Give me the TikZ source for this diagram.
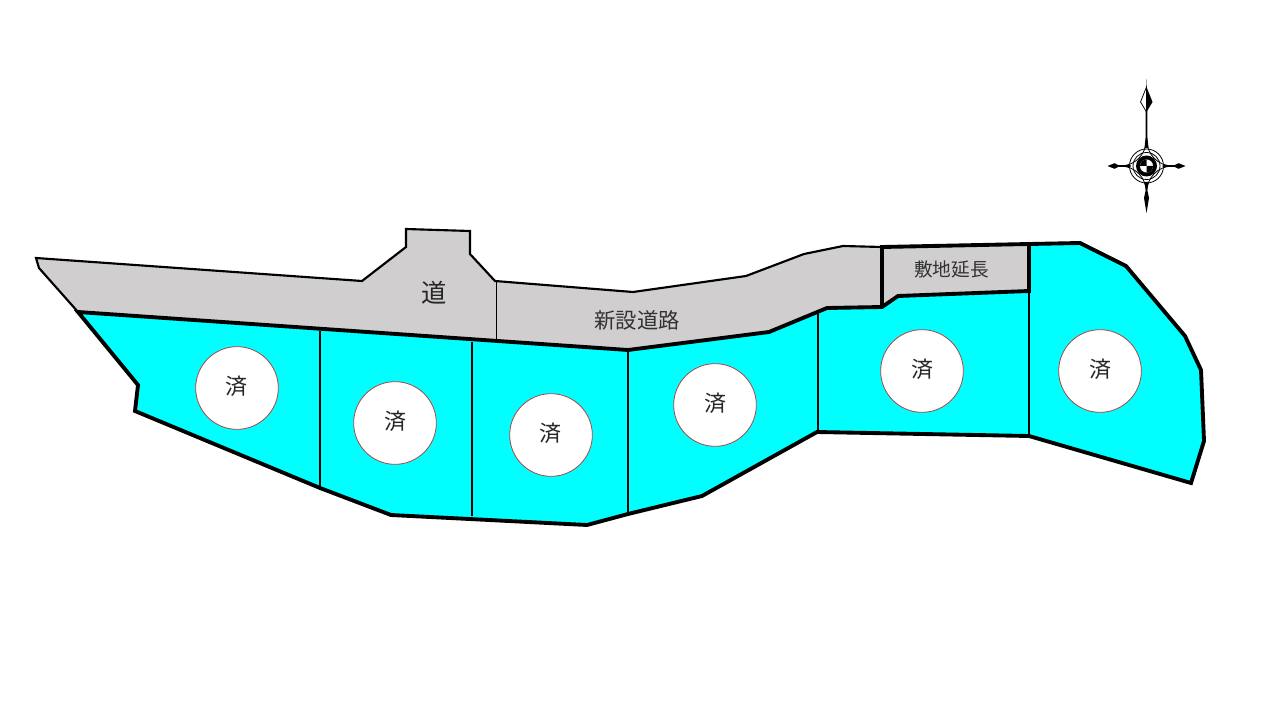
\documentclass[tikz,border=0pt]{standalone}
\usepackage{fontspec}
\newfontfamily\cjk{Noto Sans CJK JP}
\definecolor{lot}{RGB}{0,255,255}
\definecolor{road}{RGB}{208,206,206}
\definecolor{ringc}{RGB}{165,70,70}
\definecolor{inkc}{RGB}{50,50,50}
\tikzset{
  lotline/.style={draw=black,line width=2.9pt,line join=miter},
  roadline/.style={draw=black,line width=1.6pt,line join=miter},
  divider/.style={draw=black,line width=1pt},
  sold/.style={circle,draw=ringc,fill=white,line width=0.6pt,minimum size=62pt,inner sep=0pt,text=black},
  soldtext/.style={inner sep=0pt,font=\cjk\fontsize{16.5}{16.5}\selectfont,text=black!85},
  label/.style={inner sep=0pt,font=\cjk,text=inkc},
  thinring/.style={draw=black,line width=0.6pt}
}
\begin{document}
\begin{tikzpicture}[x=0.75pt,y=-0.75pt]
\useasboundingbox (0,0) rectangle (1280,720);
% road
\fill[road] (36,258) -- (39,268) -- (78,312) -- (628,350) -- (769,332) -- (827,308) -- (882,307) -- (882,247) -- (843,246) -- (804,254) -- (746,276) -- (633,292) -- (495,281) -- (470,254) -- (470,231) -- (406,229) -- (406,247) -- (362,281) -- cycle;
\draw[roadline] (78,312) -- (39,268) -- (36,258) -- (362,281) -- (406,247) -- (406,229) -- (470,231) -- (470,254) -- (495,281) -- (633,292) -- (746,276) -- (804,254) -- (843,246) -- (882,247);
% extension
\fill[road] (882,247) -- (1029,244) -- (1029,291) -- (898,296) -- (882,307) -- cycle;
% lots
\path[fill=lot] (78,312) -- (138,385) -- (135,411) -- (320,488) -- (391,515) -- (587,525) -- (628,514) -- (702,496) -- (817,432) -- (1029,436) -- (1191,483) -- (1204,441) -- (1201,370) -- (1185,336) -- (1126,266) -- (1080,243) -- (1029,244) -- (1029,291) -- (898,296) -- (882,307) -- (827,308) -- (769,332) -- (628,350) -- cycle;
% dividers
\coordinate (d1t) at (320,331); \coordinate (d1b) at (320,490);
\coordinate (d2t) at (472,342); \coordinate (d2b) at (472,516);
\coordinate (d3t) at (628,350); \coordinate (d3b) at (628,514);
\coordinate (d4t) at (818,312); \coordinate (d4b) at (818,432);
\coordinate (d5t) at (1029,291); \coordinate (d5b) at (1029,436);
\coordinate (d6t) at (496,281); \coordinate (d6b) at (496,340);
\draw[divider] (d1t) -- (d1b);
\draw[divider] (d2t) -- (d2b);
\draw[divider] (d3t) -- (d3b);
\draw[divider] (d4t) -- (d4b);
\draw[divider] (d5t) -- (d5b);
\draw[divider,line width=0.7pt] (d6t) -- (d6b);
\draw[lotline] (78,312) -- (138,385) -- (135,411) -- (320,488) -- (391,515) -- (587,525) -- (628,514) -- (702,496) -- (817,432) -- (1029,436) -- (1191,483) -- (1204,441) -- (1201,370) -- (1185,336) -- (1126,266) -- (1080,243) -- (1029,244) -- (1029,291) -- (898,296) -- (882,307) -- (827,308) -- (769,332) -- (628,350) -- cycle;
\draw[lotline] (882,307) -- (882,247) -- (1029,244);
% circles
\node[sold] (c1) at (237,388) {}; \node[soldtext] (t1) at (236,386) {済};
\node[sold] (c2) at (395,423) {}; \node[soldtext] (t2) at (395,421) {済};
\node[sold] (c3) at (551,435) {}; \node[soldtext] (t3) at (550,433) {済};
\node[sold] (c4) at (715,405) {}; \node[soldtext] (t4) at (715,403) {済};
\node[sold] (c5) at (922,371) {}; \node[soldtext] (t5) at (922,369) {済};
\node[sold] (c6) at (1100,371) {}; \node[soldtext] (t6) at (1100,369) {済};
\node[label,font=\cjk\fontsize{19}{19}\selectfont,text=black!85] (l1) at (434.5,292.5) {道};
\node[label,font=\cjk\fontsize{16}{16}\selectfont] (l2) at (637,320) {新設道路};
\node[label,font=\cjk\fontsize{14}{14}\selectfont] (l3) at (951.5,269.5) {敷地延長};
% compass
\begin{scope}[shift={(1146.5,166)}]
  % north
  \fill[black] (0,-87) -- (0.8,-62) -- (0.8,-30) -- (2,-18) -- (-2,-18) -- (-0.8,-30) -- (-0.8,-62) -- cycle;
  \draw[fill=white,line width=0.6pt] (0,-79) -- (-6,-64) -- (0,-54) -- cycle;
  \fill[black] (0,-79) -- (6,-64) -- (0,-54) -- cycle;
  % south
  \fill[black] (0,47) -- (-2.5,32) -- (-0.8,24) -- (-2,16) -- (2,16) -- (0.8,24) -- (2.5,32) -- cycle;
  % west, east
  \fill[black] (-39,0) -- (-32,-2.8) -- (-28,-0.8) -- (-16,-0.8) -- (-16,0.8) -- (-28,0.8) -- (-32,2.8) -- cycle;
  \fill[black] (39,0) -- (32,-2.8) -- (28,-0.8) -- (16,-0.8) -- (16,0.8) -- (28,0.8) -- (32,2.8) -- cycle;
  % flaring curves
  \draw[thinring] (-25,0) .. controls (-11,-1) and (-1,-11) .. (0,-26);
  \draw[thinring] (25,0) .. controls (11,-1) and (1,-11) .. (0,-26);
  \draw[thinring] (-25,0) .. controls (-11,1) and (-1,11) .. (0,26);
  \draw[thinring] (25,0) .. controls (11,1) and (1,11) .. (0,26);
  \draw[thinring] (0,0) circle[radius=17];
  \draw[thinring] (0,0) circle[radius=13.5];
  \fill[black] (0,0) circle[radius=10.5];
  \fill[white] (0,0) circle[radius=6.5];
  \fill[black] (0,0) -- (6.5,0) arc[start angle=0,end angle=90,radius=6.5] -- cycle;
  \fill[black] (0,0) -- (-6.5,0) arc[start angle=180,end angle=270,radius=6.5] -- cycle;
\end{scope}
\end{tikzpicture}
\end{document}
